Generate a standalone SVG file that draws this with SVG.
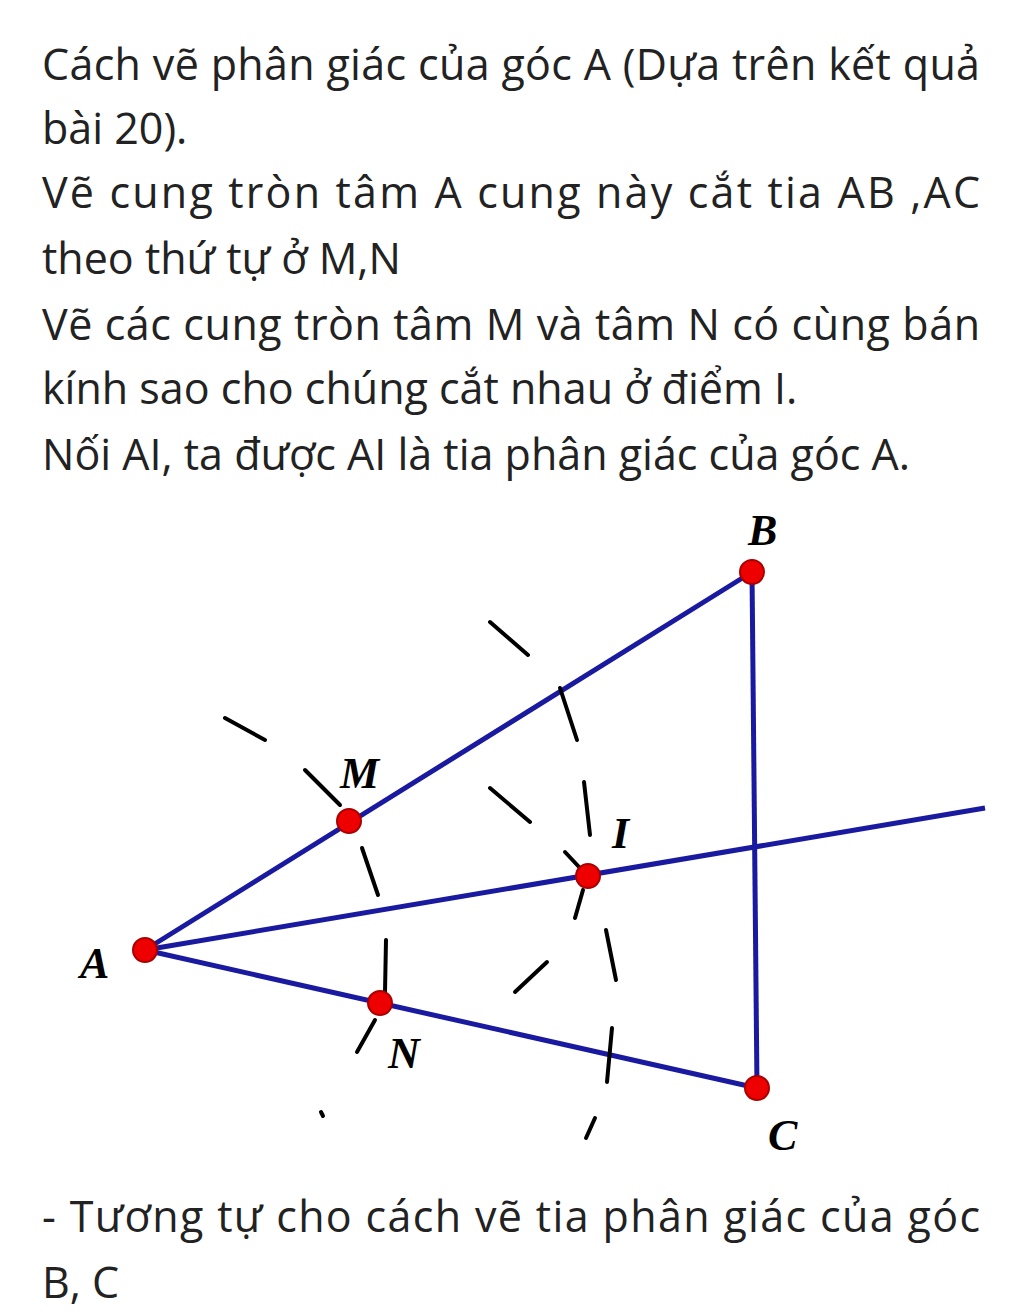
<svg xmlns="http://www.w3.org/2000/svg" width="1024" height="1314" viewBox="0 0 1024 1314">
<style>
.t{font-family:"Open Sans","Noto Sans",sans-serif;font-size:43px;fill:#222}
.s{stroke:#1a1aa0;stroke-width:5;fill:none}
.d{stroke:#000;stroke-width:4;fill:none;stroke-linecap:round}
.p{fill:#e00;stroke:#a00;stroke-width:2}
.l{font-family:"Liberation Serif",serif;font-style:italic;font-weight:bold;font-size:44px;fill:#000}
</style>
<rect width="1024" height="1314" fill="#fff"/>
<g id="text">
<text class="t" x="42" y="80" textLength="938" lengthAdjust="spacing">Cách vẽ phân giác của góc A (Dựa trên kết quả</text>
<text class="t" x="42" y="144">bài 20).</text>
<text class="t" x="42" y="208" textLength="938" lengthAdjust="spacing">Vẽ cung tròn tâm A cung này cắt tia AB ,AC</text>
<text class="t" x="42" y="274">theo thứ tự ở M,N</text>
<text class="t" x="42" y="340" textLength="938" lengthAdjust="spacing">Vẽ các cung tròn tâm M và tâm N có cùng bán</text>
<text class="t" x="42" y="404">kính sao cho chúng cắt nhau ở điểm I.</text>
<text class="t" x="42" y="470">Nối AI, ta được AI là tia phân giác của góc A.</text>
<text class="t" x="42" y="1232" textLength="938" lengthAdjust="spacing">- Tương tự cho cách vẽ tia phân giác của góc</text>
<text class="t" x="42" y="1298">B, C</text>
</g>
<g id="connectors">
<line class="s" x1="145" y1="950" x2="752" y2="572"/>
<line class="s" x1="145" y1="950" x2="757" y2="1088"/>
<line class="s" x1="752" y1="572" x2="757" y2="1088"/>
<line class="s" x1="145" y1="950" x2="985" y2="808"/>
</g>
<g id="arcs">
<line class="d" x1="225" y1="718" x2="265" y2="740"/>
<line class="d" x1="305" y1="770" x2="340" y2="805"/>
<line class="d" x1="362" y1="848" x2="378" y2="895"/>
<line class="d" x1="386" y1="940" x2="385" y2="992"/>
<line class="d" x1="375" y1="1020" x2="357" y2="1052"/>
<line class="d" x1="321" y1="1112" x2="323" y2="1116"/>
<line class="d" x1="490" y1="622" x2="528" y2="655"/>
<line class="d" x1="560" y1="688" x2="577" y2="740"/>
<line class="d" x1="584" y1="782" x2="590" y2="835"/>
<line class="d" x1="565" y1="852" x2="580" y2="868"/>
<line class="d" x1="583" y1="890" x2="575" y2="918"/>
<line class="d" x1="490" y1="788" x2="530" y2="822"/>
<line class="d" x1="515" y1="992" x2="547" y2="962"/>
<line class="d" x1="606" y1="930" x2="616" y2="980"/>
<line class="d" x1="612" y1="1028" x2="607" y2="1082"/>
<line class="d" x1="595" y1="1118" x2="586" y2="1138"/>
</g>
<g id="A"><circle class="p" cx="145" cy="950" r="12"/><text class="l" x="80" y="978">A</text></g>
<g id="B"><circle class="p" cx="752" cy="572" r="12"/><text class="l" x="748" y="545">B</text></g>
<g id="C"><circle class="p" cx="757" cy="1088" r="12"/><text class="l" x="768" y="1150">C</text></g>
<g id="M"><circle class="p" cx="349" cy="821" r="12"/><text class="l" x="340" y="788">M</text></g>
<g id="N"><circle class="p" cx="380" cy="1003" r="12"/><text class="l" x="388" y="1068">N</text></g>
<g id="I"><circle class="p" cx="588" cy="876" r="12"/><text class="l" x="612" y="848">I</text></g>
</svg>
